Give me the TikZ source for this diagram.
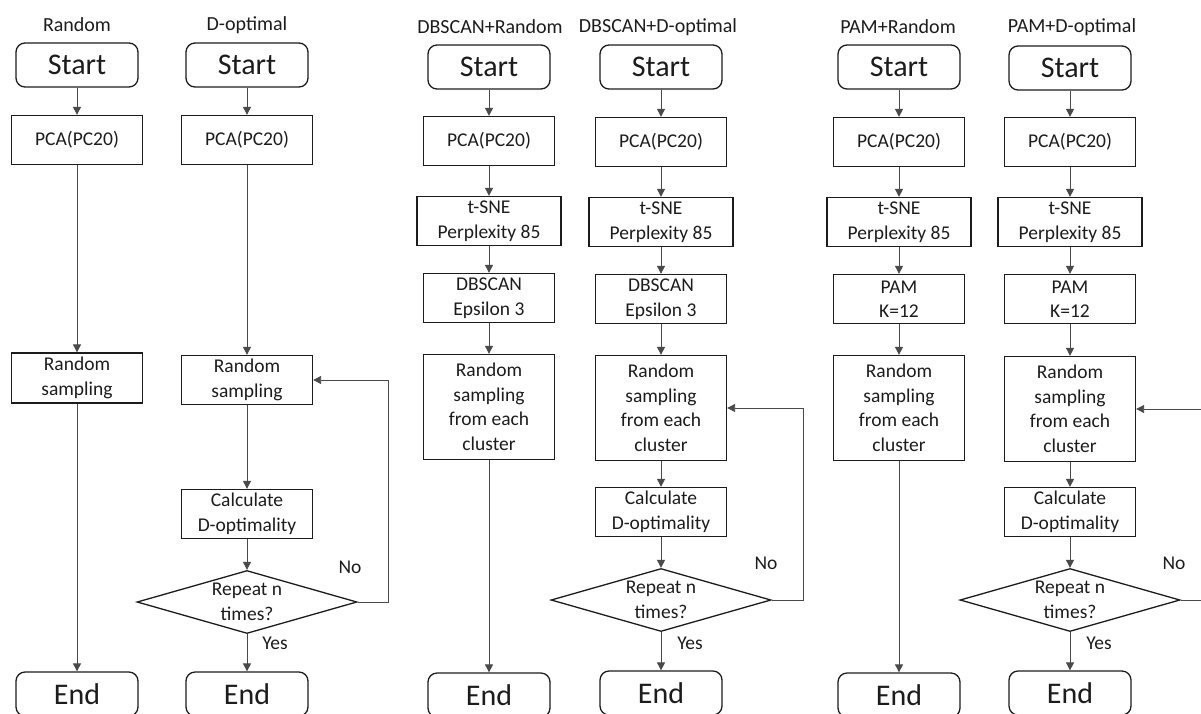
\documentclass[tikz,border=0pt]{standalone}
\usepackage{fontspec}
\setmainfont{Carlito}
\usetikzlibrary{arrows.meta,shapes.geometric}
\definecolor{ink}{HTML}{1C1C1C}
\definecolor{muted}{HTML}{4A4A4A}

\begin{document}
\begin{tikzpicture}[
  x=1pt,y=-1pt,
  font=\fontsize{19.5}{24.5}\selectfont,
  text=ink,
  terminal/.style={draw=ink, line width=1.3pt, rounded corners=9pt,
    minimum width=122pt, minimum height=44pt, inner sep=0pt,
    font=\fontsize{30}{36}\selectfont},
  box/.style={draw=ink, line width=1.3pt, align=center, inner sep=0pt,
    minimum width=131pt, minimum height=49pt},
  widebox/.style={box, minimum width=144pt},
  tallbox/.style={box, minimum height=105pt},
  decision/.style={diamond, draw=ink, line width=1.3pt, align=center,
    inner sep=0pt, aspect=3.5, minimum width=220pt, minimum height=63pt},
  flow/.style={-{Triangle[length=8pt,width=8pt]}, line width=0.9pt, draw=muted},
  heading/.style={font=\fontsize{20}{22}\selectfont},
  answer/.style={font=\fontsize{19.5}{22}\selectfont}
]
\useasboundingbox (0,0) rectangle (1201,713);
\clip (0,0) rectangle (1201,713);

% Random
\node[heading] (rndtitle) at (77,25) {Random};
\node[terminal] (rndstart) at (77,65) {Start};
\node[box] (rndpca) at (77,140) {PCA(PC20)};
\node[box, minimum height=50pt] (rndsample) at (77,378) {Random\\sampling};
\node[terminal] (rndend) at (77,694) {End};

\draw[flow] (rndstart) -- (rndpca);
\draw[flow] (rndpca) -- (rndsample);
\draw[flow] (rndsample) -- (rndend);

% D-optimal
\node[heading] (dopttitle) at (247,25) {D-optimal};
\node[terminal] (doptstart) at (247,65) {Start};
\node[box] (doptpca) at (247,140) {PCA(PC20)};
\node[box] (doptsample) at (247,380) {Random\\sampling};
\node[box] (doptcalc) at (247,514) {Calculate\\D-optimality};
\node[decision] (doptrepeat) at (247,602) {Repeat n\\times?};
\node[terminal] (doptend) at (247,694) {End};
\node[answer] (doptno) at (350,567) {No};
\node[answer] (doptyes) at (275,643) {Yes};
\coordinate (doptloop) at (388,602);

\draw[flow] (doptstart) -- (doptpca);
\draw[flow] (doptpca) -- (doptsample);
\draw[flow] (doptsample) -- (doptcalc);
\draw[flow] (doptcalc) -- (doptrepeat);
\draw[flow] (doptrepeat) -- (doptend);
\draw[flow] (doptrepeat.east) -- (doptloop) |- (doptsample.east);

% DBSCAN+Random
\node[heading] (dbrndtitle) at (490,27) {DBSCAN+Random};
\node[terminal] (dbrndstart) at (489,67) {Start};
\node[box] (dbrndpca) at (489,141) {PCA(PC20)};
\node[widebox] (dbrndtsne) at (489,221) {t-SNE\\Perplexity 85};
\node[box] (dbrndclust) at (489,298) {DBSCAN\\Epsilon 3};
\node[tallbox] (dbrndsample) at (489,407) {Random\\sampling\\from each\\cluster};
\node[terminal] (dbrndend) at (489,695) {End};

\draw[flow] (dbrndstart) -- (dbrndpca);
\draw[flow] (dbrndpca) -- (dbrndtsne);
\draw[flow] (dbrndtsne) -- (dbrndclust);
\draw[flow] (dbrndclust) -- (dbrndsample);
\draw[flow] (dbrndsample) -- (dbrndend);

% DBSCAN+D-optimal
\node[heading] (dbdopttitle) at (658,27) {DBSCAN+D-optimal};
\node[terminal] (dbdoptstart) at (661,67) {Start};
\node[box] (dbdoptpca) at (661,142) {PCA(PC20)};
\node[widebox] (dbdopttsne) at (661,222) {t-SNE\\Perplexity 85};
\node[box] (dbdoptclust) at (661,299) {DBSCAN\\Epsilon 3};
\node[tallbox] (dbdoptsample) at (661,408) {Random\\sampling\\from each\\cluster};
\node[box] (dbdoptcalc) at (661,512) {Calculate\\D-optimality};
\node[decision] (dbdoptrepeat) at (661,600) {Repeat n\\times?};
\node[terminal] (dbdoptend) at (661,693) {End};
\node[answer] (dbdoptno) at (766,563) {No};
\node[answer] (dbdoptyes) at (690,643) {Yes};
\coordinate (dbdoptloop) at (803,600);

\draw[flow] (dbdoptstart) -- (dbdoptpca);
\draw[flow] (dbdoptpca) -- (dbdopttsne);
\draw[flow] (dbdopttsne) -- (dbdoptclust);
\draw[flow] (dbdoptclust) -- (dbdoptsample);
\draw[flow] (dbdoptsample) -- (dbdoptcalc);
\draw[flow] (dbdoptcalc) -- (dbdoptrepeat);
\draw[flow] (dbdoptrepeat) -- (dbdoptend);
\draw[flow] (dbdoptrepeat.east) -- (dbdoptloop) |- (dbdoptsample.east);

% PAM+Random
\node[heading] (pamrndtitle) at (898,27) {PAM+Random};
\node[terminal] (pamrndstart) at (899,67) {Start};
\node[box] (pamrndpca) at (899,142) {PCA(PC20)};
\node[widebox] (pamrndtsne) at (899,222) {t-SNE\\Perplexity 85};
\node[box] (pamrndclust) at (899,299) {PAM\\K=12};
\node[tallbox] (pamrndsample) at (899,408) {Random\\sampling\\from each\\cluster};
\node[terminal] (pamrndend) at (899,695) {End};

\draw[flow] (pamrndstart) -- (pamrndpca);
\draw[flow] (pamrndpca) -- (pamrndtsne);
\draw[flow] (pamrndtsne) -- (pamrndclust);
\draw[flow] (pamrndclust) -- (pamrndsample);
\draw[flow] (pamrndsample) -- (pamrndend);

% PAM+D-optimal
\node[heading] (pamdopttitle) at (1072,27) {PAM+D-optimal};
\node[terminal] (pamdoptstart) at (1070,68) {Start};
\node[box] (pamdoptpca) at (1070,142) {PCA(PC20)};
\node[widebox] (pamdopttsne) at (1070,222) {t-SNE\\Perplexity 85};
\node[box] (pamdoptclust) at (1070,299) {PAM\\K=12};
\node[tallbox] (pamdoptsample) at (1070,409) {Random\\sampling\\from each\\cluster};
\node[box] (pamdoptcalc) at (1070,512) {Calculate\\D-optimality};
\node[decision] (pamdoptrepeat) at (1070,600) {Repeat n\\times?};
\node[terminal] (pamdoptend) at (1070,693) {End};
\node[answer] (pamdoptno) at (1174,563) {No};
\node[answer] (pamdoptyes) at (1099,643) {Yes};
\coordinate (pamdoptloop) at (1212,600);

\draw[flow] (pamdoptstart) -- (pamdoptpca);
\draw[flow] (pamdoptpca) -- (pamdopttsne);
\draw[flow] (pamdopttsne) -- (pamdoptclust);
\draw[flow] (pamdoptclust) -- (pamdoptsample);
\draw[flow] (pamdoptsample) -- (pamdoptcalc);
\draw[flow] (pamdoptcalc) -- (pamdoptrepeat);
\draw[flow] (pamdoptrepeat) -- (pamdoptend);
\draw[flow] (pamdoptrepeat.east) -- (pamdoptloop) |- (pamdoptsample.east);

\end{tikzpicture}
\end{document}
